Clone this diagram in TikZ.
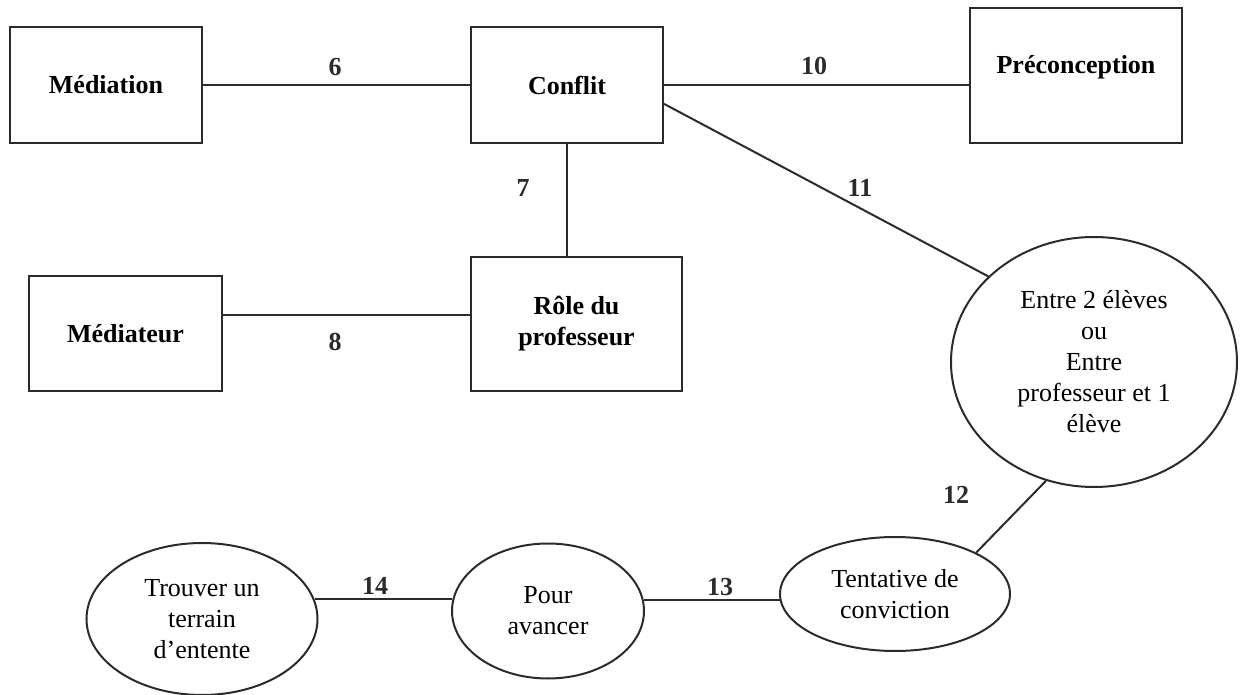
\documentclass[tikz,border=0pt]{standalone}
\usepackage{fontspec}
\setmainfont{Liberation Serif}
\usetikzlibrary{shapes.geometric}
\definecolor{traitGris}{HTML}{2b2b2b}
\newcommand{\taillediag}{\fontsize{13}{15.5}\selectfont}

\tikzset{
  boite/.style={draw=traitGris, line width=1pt, rectangle, inner sep=0pt, font=\taillediag\bfseries},
  bulle/.style={draw=traitGris, line width=1pt, ellipse, inner sep=0pt, align=center, font=\taillediag},
  lien/.style={draw=traitGris, line width=1pt},
  num/.style={font=\taillediag\bfseries, text=traitGris},
}

\begin{document}
\begin{tikzpicture}[x=0.5pt, y=-0.5pt]
    \useasboundingbox (0,0) rectangle (1249,695);
    % boxes (top part)
    \node[boite, minimum width=96pt, minimum height=58pt] (mediation) at (106,85) {Médiation};
    \node[boite, minimum width=96pt, minimum height=58pt] (conflit) at (567,85) {Conflit};
    \node[boite, minimum width=106pt, minimum height=67.5pt, text depth=11.4pt] (precon) at (1076,75.5) {Préconception};
    \node[boite, minimum width=96.5pt, minimum height=57.5pt] (mediateur) at (125.5,333.5) {Médiateur};
    \node[boite, minimum width=105.5pt, minimum height=67pt, align=center] (role) at (576.5,324) {Rôle du\\professeur};
    % ellipses
    \node[bulle, minimum width=143pt, minimum height=125pt] (entre) at (1094,362)
      {Entre 2 élèves\\ou\\Entre\\professeur et 1\\élève};
    \node[bulle, minimum width=115pt, minimum height=57pt] (tentative) at (895,594) {Tentative de\\conviction};
    \node[bulle, minimum width=96pt, minimum height=67.5pt] (pour) at (548,611) {Pour\\avancer};
    \node[bulle, minimum width=115.5pt, minimum height=76pt] (trouver) at (202,619) {Trouver un\\terrain\\d’entente};
    % connectors
    \draw[lien] (mediation) -- (conflit);
    \draw[lien] (conflit.east) -- (conflit.east -| precon.west);
    \draw[lien] (conflit.south) -- (conflit.south |- role.north);
    \draw[lien] (mediateur.east |- role.175) -- (role.175);
    \draw[lien] (conflit.-11) -- (entre.141);
    \draw[lien] (entre.248) -- (tentative.27);
    \draw[lien] (tentative.183) -- (tentative.183 -| pour.6.63);
    \draw[lien] (pour.173.37) -- (pour.173.37 -| trouver.9.65);
    % numbers
    \node[num] (n6) at (335,67) {6};
    \node[num] (n7) at (523,188) {7};
    \node[num] (n8) at (335,342) {8};
    \node[num] (n10) at (814,66) {10};
    \node[num] (n11) at (860,188) {11};
    \node[num] (n12) at (956,495) {12};
    \node[num] (n13) at (720,587) {13};
    \node[num] (n14) at (375,586) {14};
\end{tikzpicture}
\end{document}
